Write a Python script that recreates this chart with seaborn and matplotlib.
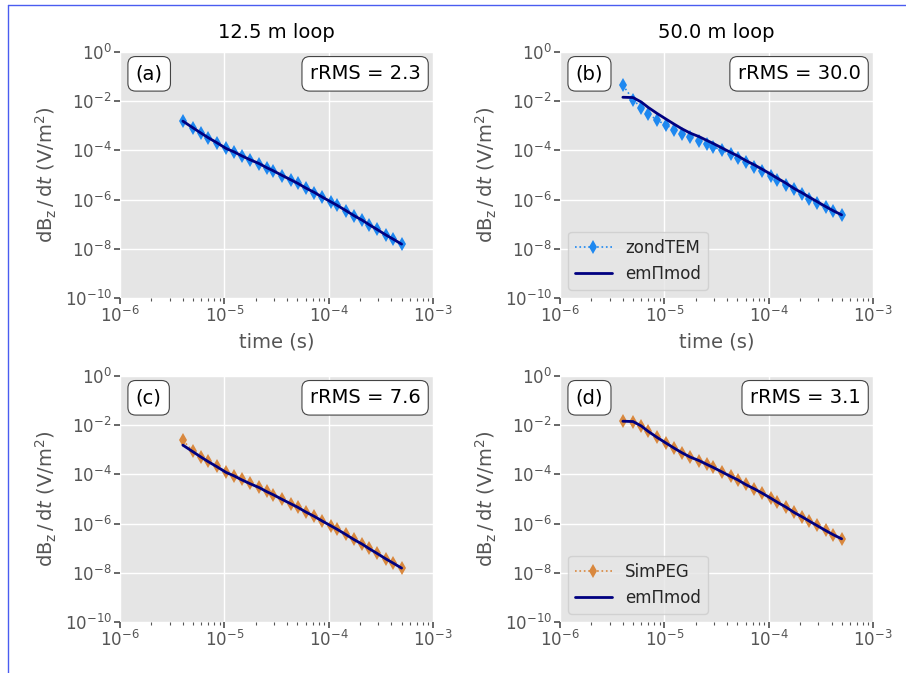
import numpy as np
import pandas as pd
import matplotlib
matplotlib.use("Agg")
import matplotlib.pyplot as plt
import matplotlib.ticker as mticker
from matplotlib.lines import Line2D
import seaborn as sns

# time gates (s)
times = [4.0e-6, 5.0e-6, 6.0e-6, 7.0e-6, 8.5e-6, 1.04e-5, 1.24e-5, 1.47e-5,
         1.76e-5, 2.16e-5, 2.54e-5, 2.95e-5, 3.6e-5, 4.36e-5, 5.05e-5, 6.0e-5,
         7.3e-5, 8.7e-5, 1.05e-4, 1.21e-4, 1.46e-4, 1.76e-4, 2.1e-4, 2.45e-4,
         2.88e-4, 3.52e-4, 4.17e-4, 5.0e-4]

# emPimod, 12.5 m loop
empy_12 = [1.55e-3, 8.3e-4, 5.0e-4, 3.3e-4, 2.04e-4, 1.2e-4, 8.7e-5, 6.0e-5,
           4.2e-5, 2.9e-5, 2.0e-5, 1.48e-5, 9.5e-6, 6.3e-6, 4.6e-6, 3.0e-6,
           1.95e-6, 1.26e-6, 8.1e-7, 5.8e-7, 3.6e-7, 2.2e-7, 1.45e-7, 9.5e-8,
           6.3e-8, 3.7e-8, 2.45e-8, 1.55e-8]
# emPimod, 50 m loop
empy_50 = [1.45e-2, 1.41e-2, 9.3e-3, 5.6e-3, 3.2e-3, 1.86e-3, 1.17e-3, 7.6e-4,
           5.1e-4, 3.6e-4, 2.57e-4, 1.9e-4, 1.23e-4, 8.1e-5, 6.0e-5, 3.9e-5,
           2.57e-5, 1.7e-5, 1.07e-5, 7.4e-6, 4.7e-6, 2.8e-6, 1.86e-6, 1.26e-6,
           8.5e-7, 5.2e-7, 3.5e-7, 2.4e-7]

zond_12 = [1.6e-3, 8.4e-4, 5.0e-4, 3.2e-4, 2.0e-4, 1.2e-4, 8.6e-5, 6.0e-5,
           4.1e-5, 2.9e-5, 2.0e-5, 1.5e-5, 9.4e-6, 6.3e-6, 4.6e-6, 3.0e-6,
           1.9e-6, 1.25e-6, 8.0e-7, 5.8e-7, 3.6e-7, 2.2e-7, 1.45e-7, 9.4e-8,
           6.2e-8, 3.7e-8, 2.4e-8, 1.5e-8]
zond_50 = [4.5e-2, 1.17e-2, 5.4e-3, 3.1e-3, 1.7e-3, 1.07e-3, 6.9e-4, 4.8e-4,
           3.5e-4, 2.4e-4, 1.86e-4, 1.38e-4, 1.0e-4, 6.9e-5, 4.8e-5, 3.4e-5,
           2.1e-5, 1.45e-5, 9.3e-6, 6.3e-6, 3.9e-6, 2.6e-6, 1.66e-6, 1.1e-6,
           7.2e-7, 4.8e-7, 3.5e-7, 2.4e-7]

simpeg_12 = [2.45e-3, 8.6e-4, 5.2e-4, 3.4e-4, 2.1e-4, 1.25e-4, 9.0e-5, 6.2e-5,
             4.3e-5, 3.0e-5, 2.1e-5, 1.52e-5, 9.8e-6, 6.5e-6, 4.7e-6, 3.1e-6,
             2.0e-6, 1.3e-6, 8.3e-7, 6.0e-7, 3.7e-7, 2.3e-7, 1.5e-7, 9.8e-8,
             6.5e-8, 3.8e-8, 2.5e-8, 1.6e-8]
simpeg_50 = [1.45e-2, 1.40e-2, 9.5e-3, 5.7e-3, 3.3e-3, 1.9e-3, 1.2e-3, 7.7e-4,
             5.2e-4, 3.6e-4, 2.6e-4, 1.95e-4, 1.25e-4, 8.3e-5, 6.1e-5, 3.9e-5,
             2.6e-5, 1.7e-5, 1.1e-5, 7.5e-6, 4.8e-6, 2.9e-6, 1.9e-6, 1.3e-6,
             8.6e-7, 5.3e-7, 3.6e-7, 2.4e-7]

panel_labels = ["(a)", "(b)", "(c)", "(d)"]
rrms = [2.3, 30.0, 7.6, 3.1]
col_titles = ["12.5 m loop", "50.0 m loop"]

sns.set_theme(style="darkgrid", rc={
    "axes.facecolor": "#E5E5E5",
    "grid.color": "white",
    "grid.linewidth": 1.0,
    "xtick.bottom": True,
    "ytick.left": True,
    "xtick.color": "#555555",
    "ytick.color": "#555555",
    "axes.labelcolor": "#555555",
    "xtick.major.size": 4,
    "ytick.major.size": 4,
    "xtick.minor.size": 2,
})
plt.rcParams["font.family"] = ["DejaVu Sans"]
plt.rcParams["mathtext.fontset"] = "dejavusans"

fig, axes = plt.subplots(2, 2, figsize=(9.06, 6.73), dpi=100)
fig.subplots_adjust(left=0.1325, right=0.9636, top=0.9227, bottom=0.0758,
                    wspace=0.406, hspace=0.317)

data_sets = [(zond_12, empy_12, "zondTEM", "#1E88F0"),
             (zond_50, empy_50, "zondTEM", "#1E88F0"),
             (simpeg_12, empy_12, "SimPEG", "#D9883E"),
             (simpeg_50, empy_50, "SimPEG", "#D9883E")]

for i, ax in enumerate(axes.flat):
    obs, mod, name, col = data_sets[i]
    df = pd.DataFrame({"t": times, "obs": obs, "mod": mod})
    sns.lineplot(data=df, x="t", y="obs", ax=ax, color=col, linestyle=":",
                 linewidth=1.2, marker="d", markersize=7.5, markeredgewidth=0,
                 label=name)
    sns.lineplot(data=df, x="t", y="mod", ax=ax, color="navy", linewidth=2,
                 label="em\u03a0mod")
    ax.set_xscale("log")
    ax.set_yscale("log")
    ax.set_xlim(1e-6, 1e-3)
    ax.set_ylim(1e-10, 1)
    ax.yaxis.set_major_locator(mticker.FixedLocator([1e-10, 1e-8, 1e-6, 1e-4, 1e-2, 1]))
    ax.yaxis.set_minor_locator(mticker.NullLocator())
    ax.xaxis.set_major_locator(mticker.LogLocator(base=10, numticks=10))
    ax.xaxis.set_minor_locator(mticker.LogLocator(base=10, subs=np.arange(2, 10), numticks=10))
    ax.xaxis.set_minor_formatter(mticker.NullFormatter())
    ax.tick_params(axis="both", which="major", labelsize=12, pad=2)
    ax.tick_params(axis="x", which="minor", bottom=True, length=2.5,
                   width=0.8, color="#555555")
    ax.grid(True, which="major", color="white", linewidth=1)
    ax.grid(False, which="minor")
    for s in ax.spines.values():
        s.set_visible(False)
    ax.set_ylabel(r"dB$_\mathrm{z}\,$/$\,$d$t$ (V/m$^2$)", fontsize=14)
    if i < 2:
        ax.set_xlabel("time (s)", fontsize=14)
        ax.set_title(col_titles[i], fontsize=14, pad=10, color="black")
    else:
        ax.set_xlabel("")
    bbox = dict(boxstyle="round,pad=0.4", fc="white", ec="#444444", lw=0.8)
    ax.text(0.05, 0.95, panel_labels[i], transform=ax.transAxes, ha="left",
            va="top", fontsize=14, color="black", bbox=bbox)
    ax.text(0.96, 0.95, f"rRMS = {rrms[i]:.1f}", transform=ax.transAxes,
            ha="right", va="top", fontsize=14, color="black", bbox=bbox)
    if i % 2 == 1:
        ax.legend(loc="lower left", fontsize=12, frameon=True,
                  facecolor="#E5E5E5", edgecolor="#CCCCCC", handlelength=2.2)
    else:
        ax.get_legend().remove()

# thin blue frame at top and left
fig.add_artist(Line2D([0.0088, 1.0], [0.9926, 0.9926], color="#4a5cf0", lw=1))
fig.add_artist(Line2D([0.0088, 0.0088], [0.0, 0.9926], color="#4a5cf0", lw=1))

plt.savefig("out.png", dpi=100)
